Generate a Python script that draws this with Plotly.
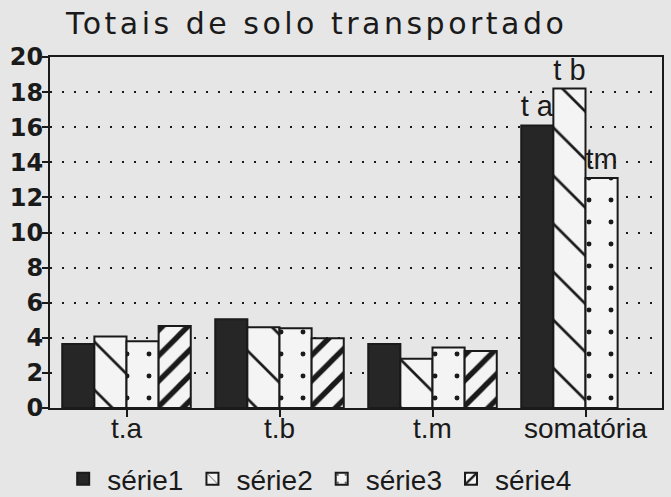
import plotly.graph_objects as go

categories = ["t.a", "t.b", "t.m", "somatória"]
serie1 = [3.65, 5.05, 3.65, 16.1]
serie2 = [4.08, 4.6, 2.8, 18.2]
serie3 = [3.8, 4.55, 3.45, 13.1]
serie4 = [4.67, 3.98, 3.25, None]
names = ["série1", "série2", "série3", "série4"]
sum_labels = ["t a", "t b", "tm"]
y_ticks = [0, 2, 4, 6, 8, 10, 12, 14, 16, 18, 20]
title_text = "Totais de solo transportado"

BG = "#e6e6e6"
INK = "#1a1a1a"
FONT = "Liberation Sans"

styles = [
    dict(color="#262626", pattern=None),
    dict(color="#f4f4f4", pattern=dict(shape="\\", size=34, solidity=0.08, fgcolor=INK,
                                       fgopacity=1, fillmode="overlay")),
    dict(color="#f4f4f4", pattern=dict(shape=".", size=22, solidity=0.04, fgcolor=INK,
                                       fgopacity=1, fillmode="overlay")),
    dict(color="#f4f4f4", pattern=dict(shape="/", size=18, solidity=0.3, fgcolor=INK,
                                       fgopacity=1, fillmode="overlay")),
]

fig = go.Figure()
series = [serie1, serie2, serie3, serie4]
for i, (vals, nm, st) in enumerate(zip(series, names, styles)):
    texts = [""] * len(categories)
    if i < len(sum_labels):
        texts[-1] = sum_labels[i]
    marker = dict(color=st["color"], line=dict(color=INK, width=2))
    if st["pattern"] is not None:
        marker["pattern"] = st["pattern"]
    fig.add_trace(go.Bar(
        x=categories, y=vals, name=nm, marker=marker,
        text=texts, textposition="outside", constraintext="none",
        cliponaxis=False,
        textfont=dict(family=FONT, size=29, color=INK),
        hoverinfo="skip",
    ))

fig.update_layout(
    width=671, height=497,
    paper_bgcolor=BG, plot_bgcolor=BG,
    margin=dict(l=50, r=9, t=57, b=89, autoexpand=False),
    barmode="group", bargap=0.16, bargroupgap=0,
    font=dict(family=FONT, color=INK),
    title=dict(text='<span style="letter-spacing:3.5px">' + title_text + '</span>',
               x=66/671, xanchor="left", xref="container",
               y=1-23/497, yanchor="middle", yref="container",
               font=dict(family="DejaVu Sans", size=30, color=INK)),
    legend=dict(orientation="h", x=0.015, xanchor="left",
                y=(497-479)/497, yanchor="middle", yref="container",
                font=dict(family=FONT, size=28, color=INK),
                bgcolor="rgba(0,0,0,0)", itemwidth=38, traceorder="normal"),
    showlegend=True,
)
fig.update_xaxes(
    showline=True, linecolor=INK, linewidth=2, mirror=True,
    ticks="outside", ticklen=7, tickwidth=2, tickcolor=INK,
    tickfont=dict(family=FONT, size=28, color=INK),
    ticklabelstandoff=-13,
    showgrid=False, automargin=False,
)
fig.update_yaxes(
    range=[0, 20], tickvals=y_ticks,
    showline=True, linecolor=INK, linewidth=2, mirror=True,
    ticks="outside", ticklen=6, tickwidth=2, tickcolor=INK,
    tickfont=dict(family="DejaVu Sans", size=24, color=INK, weight="bold"),
    ticklabelstandoff=-6,
    showgrid=True, gridcolor=INK, gridwidth=2, griddash="2px,10px",
    zeroline=False, automargin=False,
)
fig.write_html("out.html", config={"displayModeBar": False},
               post_script="document.body.style.margin='0px';")
